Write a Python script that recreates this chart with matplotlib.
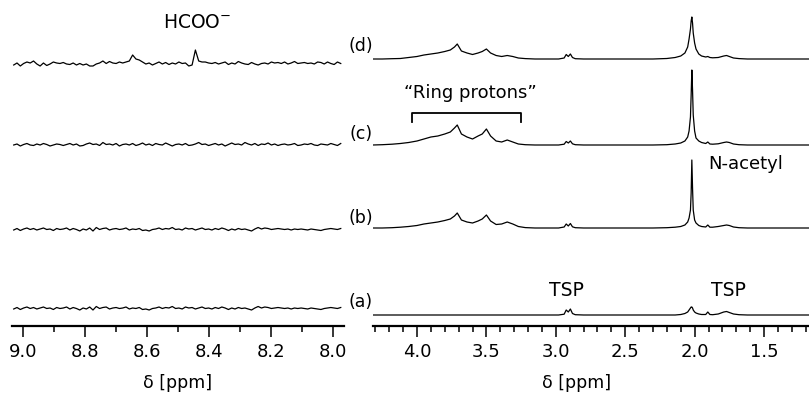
import numpy as np
import matplotlib
matplotlib.use("Agg")
import matplotlib.pyplot as plt
from matplotlib.ticker import MultipleLocator, FormatStrFormatter

plt.rcParams['font.family'] = ['DejaVu Sans']

# ---- data (intensities in plot units above each trace's baseline) ----
# right panel: shared chemical shift grid
ppm_r = [4.32, 4.25, 4.18, 4.12, 4.06, 4.00, 3.95, 3.90, 3.85, 3.80,
         3.76, 3.73, 3.71, 3.68, 3.64, 3.60, 3.56, 3.53, 3.50, 3.47,
         3.43, 3.39, 3.35, 3.31, 3.27, 3.22, 3.15, 3.05, 2.98, 2.94,
         2.925, 2.91, 2.895, 2.88, 2.86, 2.80, 2.70, 2.60, 2.50, 2.40,
         2.30, 2.20, 2.14, 2.10, 2.07, 2.05, 2.04, 2.03, 2.025, 2.02,
         2.015, 2.01, 2.00, 1.99, 1.97, 1.95, 1.92, 1.905, 1.89, 1.87,
         1.83, 1.79, 1.77, 1.75, 1.72, 1.68, 1.62, 1.55, 1.45, 1.35,
         1.25, 1.17]

spec_d = [0, 0, 0.3, 0.5, 1.5, 2.5, 4, 5, 6, 7.5,
          9, 12, 15, 8, 6, 4.5, 6, 7.5, 10, 6,
          3.5, 2.5, 3.5, 2.5, 1, 0.4, 0, 0, 0, 1,
          4.5, 2.5, 5, 1.5, 0.3, 0, 0, 0, 0, 0,
          0, 0.5, 1.5, 3, 6, 12, 20, 30, 38, 42,
          36, 26, 16, 10, 5, 3, 2, 2.5, 1.5, 1.2,
          1.5, 3, 3.5, 2.5, 1, 0.4, 0, 0, 0, 0,
          0, 0]
spec_c = [0, 0.3, 0.8, 1.5, 2.5, 4, 6, 8, 9, 11,
          13, 17, 20, 11, 8, 6, 9, 11, 16, 9,
          4, 3, 5, 3, 1, 0.3, 0, 0, 0, 0.8,
          3.5, 2, 4, 1.2, 0.3, 0, 0, 0, 0, 0,
          0, 0.3, 1, 2, 4, 8, 14, 28, 50, 75,
          55, 30, 14, 7, 4, 2.5, 1.5, 3, 1, 0.8,
          1.2, 2.5, 3, 2.5, 1, 0.3, 0, 0, 0, 0,
          0, 0]
spec_b = [0, 0, 0.3, 0.8, 1.5, 2.5, 4, 5, 6, 7.5,
          9, 12, 15, 8, 6, 5, 7, 9, 13, 7,
          3.5, 4, 6, 4, 1.5, 0.4, 0, 0, 0, 1,
          4, 2, 4.5, 1.2, 0.3, 0, 0, 0, 0, 0,
          0, 0.3, 0.8, 1.5, 3, 6, 10, 18, 35, 68,
          40, 18, 8, 5, 2.5, 1.5, 1, 3, 0.8, 0.8,
          1.5, 2.5, 3, 2.5, 1, 0.3, 0, 0, 0, 0,
          0, 0]
spec_a = [0, 0, 0, 0, 0, 0, 0, 0, 0, 0,
          0, 0, 0, 0, 0, 0, 0, 0, 0, 0,
          0, 0, 0, 0, 0, 0, 0, 0, 0, 0.8,
          5, 3, 6, 1.5, 0.3, 0, 0, 0, 0, 0,
          0, 0, 0, 0.5, 1.5, 3, 5, 7, 8, 8,
          7, 5, 3, 2, 1, 0.5, 0.5, 3, 0.5, 0.3,
          1, 3, 3.5, 2.5, 1, 0.3, 0, 0, 0, 0,
          0, 0]

# left panel: noise-only traces, 9.03 -> 7.975 ppm
noise_d = [-1, 1, -2, 0.5, 2, 1, 3, 0, -2, 1,
           -1.5, 0, 2, 1, 0.5, 1.5, 0, -0.5, 1, -1,
           0.5, -1, 0, -2, -2, 0, 1, 3, 0.5, 2.5,
           1, 0.5, 2, 1, 2, 3, 9, 5, 4, 2,
           0, 1, -1, 0.5, 2, 0, 1.5, -0.5, 1, 0,
           2, 0.5, 1, -2, -1, 14, 3, 2, 2, 1,
           0.5, 1.5, 0, 1, 2, -0.5, 1, 0, 2.5, 1,
           0, -0.5, 1.5, 0, -1, 0.5, 1, 0, 2, 1,
           1.5, 0.5, 2, 0, 1, 2.5, 0.5, 1, 1.5, 0.5,
           1, 0, 2, 1.5, 0, 2, 0.5, -0.5, 2, 0.5]
noise_c = [0, 1, -1, 0.5, 1.5, 0, -0.5, 1, 0, 1.5,
           0.5, -1, 0, 1, 0.5, -0.5, 0.5, 1.5, 0, 1,
           -1, -0.5, 1, 2, 0.5, 1, -0.5, 2.5, 0.5, 1,
           0, 1.5, -1, 0.5, 1, 0, 1.5, -0.5, 0.5, 2,
           0, 1, -0.5, 1.5, 0.5, 0, 2, 0.5, -1, 0.5,
           1, 0, 1.5, -0.5, 0, 1, 2.5, 0.5, 1, -0.5,
           0.5, 1.5, 0, 1, -1, 0.5, 2, 0.5, 1, 0,
           2.5, 1, 0, 1.5, -0.5, 1, 0.5, 2, 0, 1,
           -0.5, 0.5, 1, 0, 0.5, 1.5, -0.5, 0, 1, 0.5,
           1.5, 0, -0.5, 1, 0.5, 0, 1.5, 0.5, -0.5, 1.5]
noise_ab = [0, 1.5, -0.5, 1, 2, 0.5, 1.5, 0, 1, 2,
            0.5, 1, -0.5, 1.5, 0.5, 1, 2, 0, 1.5, 0.5,
            -1, 1, 0, 2, -1, 2.5, 0.5, 1.5, 2, 0,
            1, 1.5, 0.5, 1, 2, 0, 1, 0.5, 1.5, -0.5,
            0, -1, 0.5, 1, 2, 0.5, 1.5, 1, 2.5, 0.5,
            1, 0, 2, 1, 1.5, 0, 1, 2, 0.5, 1,
            0, 1.5, 0.5, 2, 1, -0.5, 1, 0, 1.5, 0.5,
            1, 0, -1, 1, 2.5, 1, 2, 1.5, 0.5, 1,
            1.5, 1, 0.5, 1, 0, 1, 0.5, 1, 0.5, 0,
            1, 0.5, 0, -0.5, 0.5, 1, 1.5, 1, 0.5, 1.5]

trace_labels = ['(a)', '(b)', '(c)', '(d)']

W, H = 809, 394
fig = plt.figure(figsize=(W / 100, H / 100), dpi=100)

def px_axes(x0, x1, ybot):
    return fig.add_axes([x0 / W, (H - ybot) / H, (x1 - x0) / W, ybot / H])

axL = px_axes(12, 344, 326)
axR = px_axes(373, 809, 326)

for ax in (axL, axR):
    ax.set_ylim(0, 326)
    for s in ('top', 'left', 'right'):
        ax.spines[s].set_visible(False)
    ax.spines['bottom'].set_linewidth(1.6)
    ax.set_yticks([])
    ax.patch.set_alpha(0)
    ax.tick_params(axis='x', which='major', length=8, width=1.1, labelsize=13, pad=4)
    ax.tick_params(axis='x', which='minor', length=4, width=1.1)

# left panel
ppm_l = np.linspace(9.03, 7.975, len(noise_d))
for trace, off in ((noise_d, 262), (noise_c, 181), (noise_ab, 96), (noise_ab, 17)):
    axL.plot(ppm_l, np.array(trace) + off, color='black', lw=0.9)
axL.set_xlim(9.0355, 7.9645)
axL.xaxis.set_major_locator(MultipleLocator(0.2))
axL.xaxis.set_minor_locator(MultipleLocator(0.1))
axL.xaxis.set_major_formatter(FormatStrFormatter('%.1f'))

# right panel
for trace, off in ((spec_d, 267), (spec_c, 181), (spec_b, 98), (spec_a, 11)):
    axR.plot(ppm_r, np.array(trace) + off, color='black', lw=0.9)
axR.set_xlim(4.317, 1.176)
axR.xaxis.set_major_locator(MultipleLocator(0.5))
axR.xaxis.set_minor_locator(MultipleLocator(0.1))
axR.xaxis.set_major_formatter(FormatStrFormatter('%.1f'))

def ftext(x, y, s, **kw):
    fig.text(x / W, 1 - y / H, s, ha=kw.pop('ha', 'center'), va=kw.pop('va', 'center'),
             fontsize=kw.pop('fontsize', 12.5), **kw)

for lab, y in zip(trace_labels, (302, 218, 134, 46)):
    ftext(361, y, lab)

ftext(197, 23, 'HCOO$^{-}$', fontsize=13.5)
ftext(470, 93, '\u201cRing protons\u201d', fontsize=13)
axR.plot([4.036, 4.036, 3.25, 3.25], [204, 213, 213, 204], color='black', lw=1.3)
ftext(708, 164, 'N-acetyl', ha='left', fontsize=13)
ftext(566, 291, 'TSP', fontsize=13.5)
ftext(728, 291, 'TSP', fontsize=13.5)
ftext(178, 383, '\u03b4 [ppm]')
ftext(577, 383, '\u03b4 [ppm]')

fig.savefig('out.png', dpi=100)
